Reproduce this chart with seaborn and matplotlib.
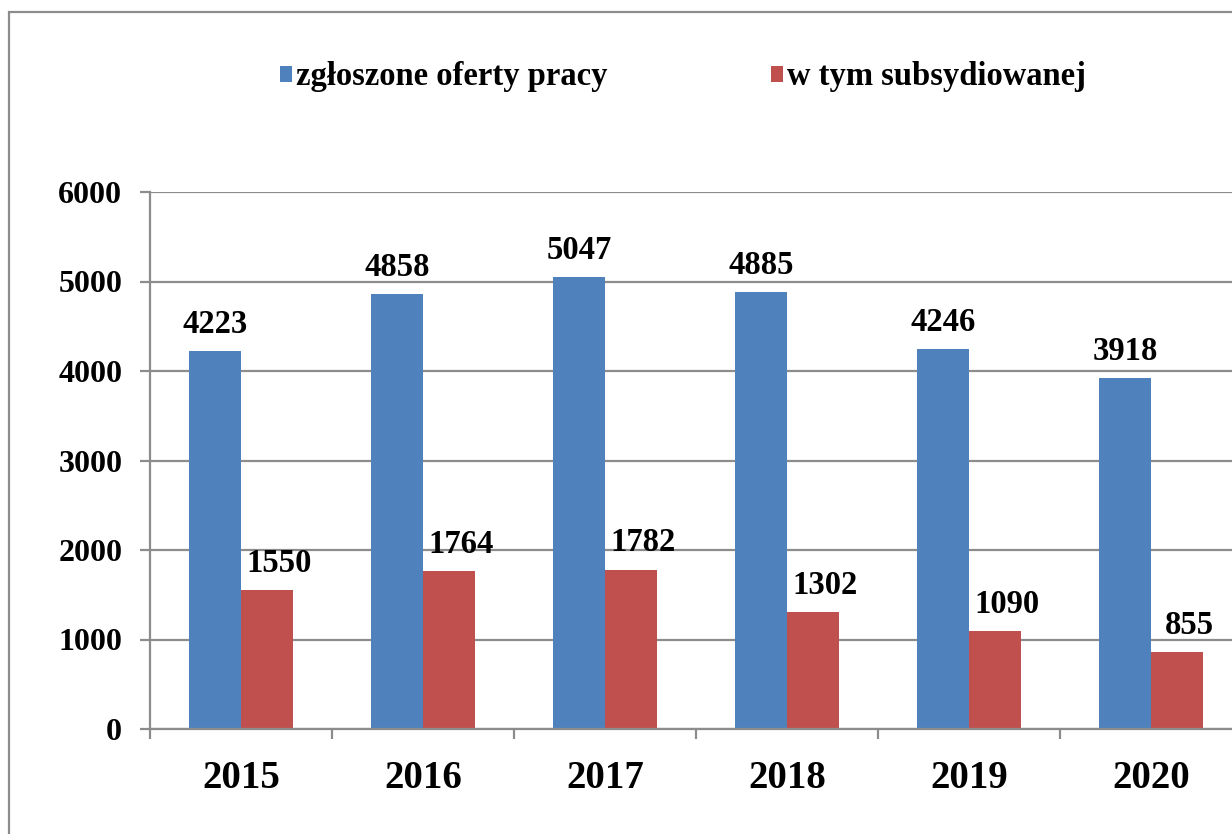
import pandas as pd
import numpy as np
import matplotlib.pyplot as plt
from matplotlib.patches import Rectangle, Patch
import seaborn as sns

# Data
years = ["2015", "2016", "2017", "2018", "2019", "2020"]
offers = [4223, 4858, 5047, 4885, 4246, 3918]
subsidised = [1550, 1764, 1782, 1302, 1090, 855]
series_names = ["zgłoszone oferty pracy", "w tym subsydiowanej"]
colors = ["#4F81BD", "#C0504D"]

df = pd.DataFrame({
    "rok": years * 2,
    "wartosc": offers + subsidised,
    "seria": [series_names[0]] * len(years) + [series_names[1]] * len(years),
})

sns.set_style("white")
plt.rcParams["font.family"] = ["Liberation Serif", "DejaVu Serif"]
plt.rcParams["font.weight"] = "bold"
plt.rcParams["text.color"] = "black"
plt.rcParams["xtick.color"] = "black"
plt.rcParams["ytick.color"] = "black"

fig = plt.figure(figsize=(12.32, 8.34), dpi=100)
ax = fig.add_axes([150 / 1232, 105 / 834, 1092 / 1232, 537 / 834])

sns.barplot(data=df, x="rok", y="wartosc", hue="seria", palette=colors,
            width=0.571, linewidth=0, saturation=1, legend=False, ax=ax)

ax.set_xlim(-0.5, 5.5)
ax.set_ylim(0, 6000)
ax.set_yticks(np.arange(0, 6001, 1000))
ax.set_xlabel("")
ax.set_ylabel("")

grid_c = "#8C8C8C"
ax.yaxis.grid(True, color=grid_c, linewidth=1.6)
ax.set_axisbelow(True)
for s in ["top", "right"]:
    ax.spines[s].set_visible(False)
for s in ["left", "bottom"]:
    ax.spines[s].set_color(grid_c)
    ax.spines[s].set_linewidth(1.6)

ax.tick_params(axis="y", left=True, length=7, width=1.6, color=grid_c,
               labelcolor="black", pad=13, labelsize=23)
ax.tick_params(axis="x", which="major", length=0, pad=22, labelsize=28, labelcolor="black")
ax.set_xticks(np.arange(-0.5, 6.0, 1.0), minor=True)
ax.tick_params(axis="x", which="minor", bottom=True, length=7, width=1.6, color=grid_c)
for lab in ax.get_xticklabels() + ax.get_yticklabels():
    lab.set_fontweight("bold")

# value labels
offsets = [0, 12]
for cont, dx in zip(ax.containers, offsets):
    for bar in cont:
        h = bar.get_height()
        ax.annotate(f"{int(h)}", (bar.get_x() + bar.get_width() / 2, h),
                    xytext=(dx * 0.72, 8), textcoords="offset points",
                    ha="center", va="bottom", fontsize=23.5, fontweight="bold",
                    color="black")

# legend
handles = [Patch(facecolor=c, edgecolor="none") for c in colors]
fig.legend(handles, series_names, loc="center", bbox_to_anchor=(683 / 1232, 1 - 77 / 834),
           ncol=2, frameon=False, handlelength=0.38, handleheight=0.38,
           handletextpad=0.12, columnspacing=5.0,
           prop={"size": 23.5, "weight": "bold"})

# outer chart border
fig.patches.append(Rectangle((9 / 1232, -0.1), 1.2, 0.1 + (834 - 12) / 834,
                             transform=fig.transFigure, fill=False,
                             edgecolor="#8C8C8C", linewidth=1.6))

fig.savefig("out.png", dpi=100)
